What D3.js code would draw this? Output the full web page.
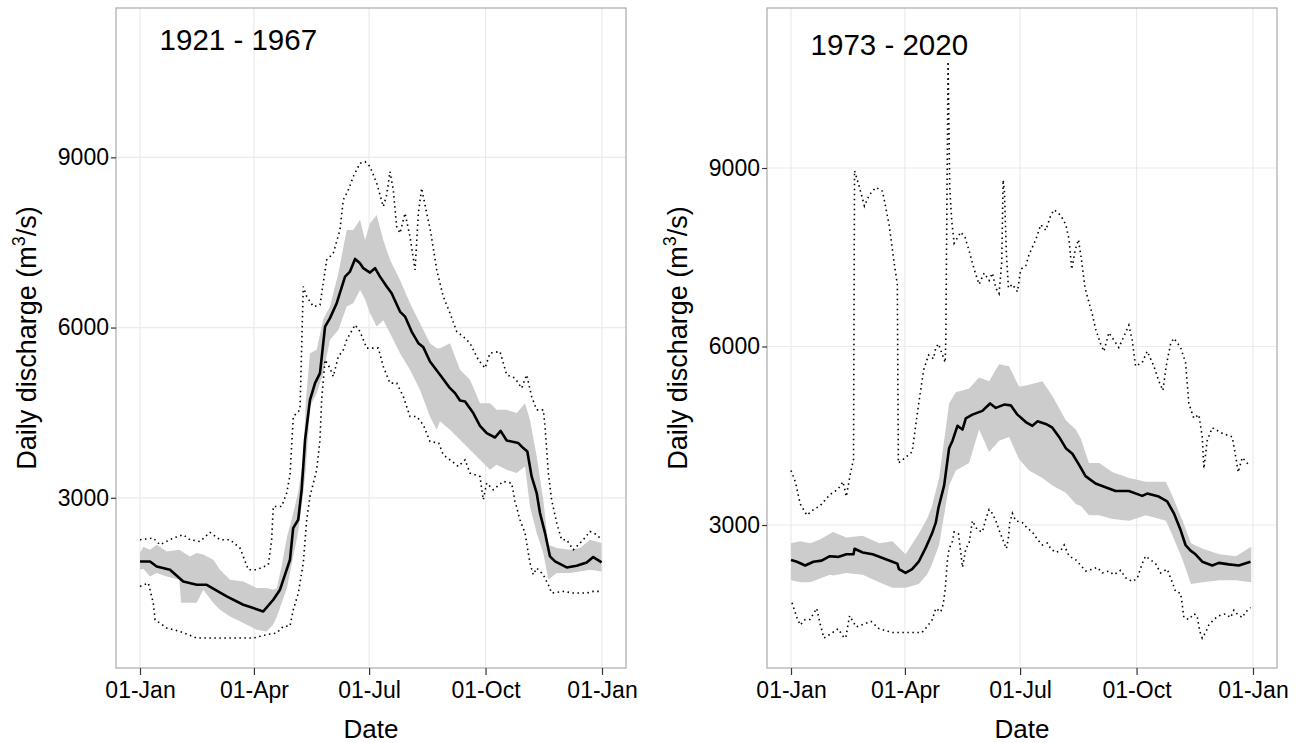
<!DOCTYPE html>
<html>
<head>
<meta charset="utf-8">
<script src="https://cdn.jsdelivr.net/npm/d3@7"></script>
<style>
  body { margin: 0; background: #fff; }
  text { font-family: "Liberation Sans", Arial, sans-serif; }
</style>
</head>
<body>
<div id="chart"></div>
<script>
// axis ticks (day of year) and labels
const dayTicks = [0, 90, 181, 273, 365];
const dayTickLabels = ["01-Jan", "01-Apr", "01-Jul", "01-Oct", "01-Jan"];
const valueTicks = [3000, 6000, 9000];
const panelTitles = ["1921 - 1967", "1973 - 2020"];
const yLimits = [[0, 11632], [597, 11689]];
const titlePos = [15.5, 11080]; // day, discharge

// 1921 - 1967 : [day, value]
const early_mean = [[0,1878],[7.9,1878],[13.2,1790],[23.7,1732],[34.2,1526],[44.8,1467],[52.7,1467],[68.5,1261],[81.6,1115],[97.4,997],[105.3,1203],[110.6,1380],[118.5,1908],[121,2466],[125,2612],[127.7,3141],[130.4,4022],[134.3,4726],[138.3,5020],[142.2,5197],[146.2,6018],[150.1,6166],[155.4,6430],[162,6898],[165.9,6987],[169.9,7210],[173.8,7134],[176.4,7046],[181.7,6969],[185.7,7046],[189.6,6898],[194.9,6722],[198.8,6606],[205.4,6282],[209.4,6194],[214.6,5930],[219.9,5725],[223.8,5655],[229.1,5401],[237,5167],[244.9,4932],[248.9,4844],[252.8,4714],[256.8,4697],[263.3,4492],[268.6,4268],[273.9,4140],[280.5,4062],[284.9,4180],[289.7,4010],[298.9,3964],[302.8,3876],[306,3816],[309.4,3376],[313.4,3083],[316,2731],[320,2378],[323.9,1966],[327.9,1878],[337.1,1772],[345,1802],[352.9,1860],[358.1,1955],[364.7,1860]];
// [day, lower, upper]
const early_band = [[0,1732,2026],[2.6,1750,2137],[7.9,1614,2084],[13.2,1673,2172],[21.1,1614,2054],[31,1555,2084],[32.5,1150,2060],[39.5,1150,1966],[44.8,1150,2026],[50,1379,2000],[57.9,1145,1908],[63.2,1027,1732],[71.1,909,1555],[81.6,792,1526],[92.2,675,1409],[100,645,1409],[105,760,1380],[108,900,1400],[112,1150,1800],[116,1400,2300],[121.1,1966,2731],[125,2400,3100],[129,3083,3669],[131,3500,4700],[134.3,4609,5549],[139.6,4844,5607],[144.8,5197,6150],[150.1,5783,6370],[156.7,5959,6958],[163.3,6370,7721],[168.5,6430,7721],[173.8,6664,7898],[177.8,6500,7545],[181.7,6254,7839],[187,6018,7985],[192.2,6130,7545],[197.5,5901,7193],[205.4,5549,6840],[213.3,5255,6430],[221.2,4903,6078],[229.1,4432,5725],[234.4,4198,5637],[237,4350,5637],[244.9,4198,5725],[252.8,4022,5255],[260.7,3846,5079],[268.6,3669,4668],[276.5,3493,4668],[281.8,3580,4550],[289.7,3493,4550],[297.6,3435,4492],[304.2,3550,4668],[308.1,2847,4374],[313.4,2378,3728],[318.6,2026,2965],[322.6,1555,2172],[329.2,1673,2114],[339.7,1673,2084],[347.6,1702,2114],[355.5,1732,2260],[364.7,1702,2202]];
const early_max = [[0,2260],[10.5,2290],[15.8,2172],[26.3,2290],[34.2,2348],[39.5,2260],[47.4,2230],[55.3,2389],[63.2,2260],[71.1,2260],[79,2114],[85.6,1732],[92.2,1732],[101.4,1820],[104,2260],[105.3,2847],[111.9,2847],[115.9,3083],[118.5,3400],[121.1,4432],[126.4,4550],[129,6722],[131.7,6546],[137,6370],[142.2,6400],[147.5,7193],[152.7,7311],[158,7721],[160.6,8250],[164.6,8426],[168.5,8661],[173.8,8896],[177.8,8925],[181.7,8837],[187,8544],[192.2,8132],[194.9,8338],[197.5,8749],[200.1,8426],[202.8,7780],[205.4,7663],[209.4,8015],[213.3,7604],[217.3,7017],[219.9,8015],[222.5,8456],[226.5,8015],[229.1,7751],[231.7,7400],[234.4,7017],[239.6,6546],[244.9,6254],[250.2,5930],[255.4,5842],[260.7,5725],[267.3,5431],[272.6,5285],[276.5,5549],[284.4,5578],[289.7,5167],[296.3,5109],[301.5,4932],[305.5,5167],[309.4,4785],[313.4,4550],[318.6,4550],[320,4256],[322.6,3435],[325.2,2965],[329.2,2554],[333.1,2260],[337.1,2260],[342.3,2084],[350.2,2260],[355.5,2407],[360.8,2350],[364.7,2260]];
const early_min = [[0,1438],[6.6,1497],[10.5,1145],[11.9,851],[21.1,705],[31.6,645],[44.8,528],[57.9,528],[71.1,528],[89.5,528],[100,587],[108,617],[113.2,733],[118.5,740],[121.1,1027],[125.1,1321],[129,1850],[131.7,2612],[134.3,3024],[139.6,3493],[142.2,4022],[143.5,4726],[146.2,5431],[150.1,5285],[152.7,5137],[156.7,5490],[160.6,5607],[163.3,5783],[169.9,6048],[173.8,5930],[179.1,5637],[184.3,5637],[188.3,5637],[192.2,5314],[197.5,5020],[202.8,5020],[208,4785],[213.3,4432],[218.6,4432],[223.8,4286],[229.1,3992],[236,3964],[239.6,3757],[244.9,3669],[251.5,3552],[256.8,3669],[260.7,3435],[268.6,3376],[271.2,2965],[273.9,3259],[279.1,3141],[287,3288],[293.6,3259],[296.3,2935],[300.2,2612],[304.2,2378],[308.1,1850],[310.7,1644],[313.4,1762],[318.6,1644],[322.6,1467],[325.2,1321],[334.4,1350],[342.3,1321],[352.9,1321],[358.1,1350],[364.7,1350]];

// 1973 - 2020
const late_mean = [[0,2414],[4.7,2383],[11.2,2320],[17.7,2383],[24.2,2401],[30.7,2476],[37.2,2464],[43.7,2508],[49.4,2508],[50.2,2602],[56.7,2539],[64.5,2508],[72.3,2445],[80.1,2383],[84,2351],[85.3,2257],[90.5,2195],[95.7,2257],[100.9,2383],[106.1,2602],[111.3,2852],[114.4,3040],[116.5,3290],[121,3666],[124.9,4291],[127.6,4417],[131.5,4667],[135.5,4605],[138.1,4793],[143.3,4855],[151.2,4918],[157.3,5043],[161.8,4968],[168.4,5024],[173.6,5011],[178.9,4855],[185.5,4730],[190.7,4667],[194.7,4742],[201.3,4699],[206.5,4636],[211.8,4480],[217.1,4291],[222.3,4198],[227.6,4010],[232.7,3822],[240.6,3697],[248.5,3635],[256.4,3572],[266.9,3572],[277.5,3490],[281.4,3528],[290.6,3478],[297.2,3397],[302.5,3196],[307.8,2915],[311.7,2664],[315.7,2570],[319.6,2508],[324.9,2383],[332.8,2320],[338,2364],[345.9,2339],[353.8,2320],[363,2383]];
const late_band = [[0,2070,2695],[7.3,2039,2727],[15.1,2039,2695],[22.9,2101,2758],[30.7,2164,2852],[33.3,2150,2883],[43.7,2195,2790],[56.7,2164,2821],[69.7,2039,2695],[80.1,1945,2727],[90.5,1945,2508],[100.9,2008,2852],[107.4,2164,3102],[111,2320,3290],[117,2664,3791],[124.9,3666,5043],[130.2,3916,5231],[140.7,4041,5293],[148.6,4605,5481],[156.5,4229,5418],[164.4,4417,5700],[172.3,4480,5669],[180.2,4104,5324],[188.1,3916,5356],[198.6,3791,5418],[206.5,3666,5168],[217.1,3541,4761],[225,3353,4605],[229,3320,4450],[235.4,3165,4041],[243.5,3165,4041],[254.1,3103,3885],[267.3,3071,3791],[280.4,3165,3729],[296.2,3071,3729],[301.5,2821,3478],[309.4,2414,3071],[316,2008,2695],[325.2,2039,2602],[338.4,2070,2508],[351.5,2070,2477],[363.6,2039,2633]];
const late_max = [[0,3916],[3.4,3728],[7.3,3353],[12.5,3165],[17.7,3259],[22.9,3322],[30.7,3509],[37.2,3603],[41.1,3728],[43.7,3478],[46.8,3854],[49.4,4104],[50.2,8956],[54.1,8674],[58,8361],[61.9,8549],[67.1,8674],[72.3,8611],[77.5,8048],[81.4,7422],[84,7046],[84.8,4041],[90.5,4135],[95.7,4229],[100.9,5043],[104.8,5606],[108.7,5857],[112.6,5794],[114.4,5982],[116.5,6045],[119.7,5857],[121.8,5732],[122.3,6107],[124.1,10790],[125.4,8674],[127,8110],[128.9,7735],[134.1,7923],[137.6,7829],[140.7,7610],[144.7,7297],[148.6,7046],[152.6,7234],[156.5,7109],[159.1,7234],[161.8,6984],[164.4,6890],[166.5,7422],[167.6,8799],[168.6,8611],[170.2,7547],[171.8,6984],[174.9,7046],[178.9,6921],[181.5,7297],[185.5,7359],[188.1,7547],[193.4,7797],[197.3,8048],[201.3,7954],[205.2,8204],[207.9,8298],[213.1,8204],[217.1,8048],[219.7,7797],[221.8,7297],[224.4,7610],[227.1,7797],[229.7,7422],[232.3,6984],[235.5,6733],[238,6546],[240.6,6296],[244.6,6045],[247.2,5920],[251.1,6233],[255.1,6107],[259,5982],[263,6170],[266.9,6358],[269.6,6107],[272.2,5669],[277.5,5732],[281.4,5920],[286.7,5669],[290.6,5418],[293.8,5262],[296.4,5669],[299.9,6045],[302.5,6139],[307.8,5982],[311.7,5732],[314.3,5043],[318.3,4793],[322.2,4855],[324.9,4480],[326.2,3948],[328.8,4417],[332.8,4636],[340.7,4542],[348.6,4480],[351.2,4167],[353.3,3885],[356.5,4135],[361.7,4010]];
const late_min = [[0.8,1694],[4.7,1444],[7.3,1319],[11.2,1413],[15.1,1413],[20.3,1600],[22.9,1350],[26,1100],[30.7,1162],[37.2,1256],[41.1,1131],[43.2,1100],[46.3,1475],[51.5,1288],[59.3,1350],[63.2,1381],[69.7,1256],[80.1,1193],[90.5,1193],[98.3,1193],[103.5,1193],[107.4,1288],[111.7,1412],[114.4,1600],[118.3,1538],[120.2,1663],[121.8,1913],[123.6,2414],[124.9,2602],[127.6,2727],[128.9,2883],[132.3,2852],[134.1,2539],[135.5,2289],[138.1,2602],[140.7,2696],[143.3,3071],[147.3,2915],[151.2,2883],[153.9,3102],[156.5,3259],[159.1,3196],[161.8,3071],[164.4,2915],[168.4,2696],[170.2,2602],[171.8,2790],[172.8,3040],[174.9,3196],[177.6,3071],[182.8,3040],[186.8,2946],[190.7,2883],[194.7,2758],[198.6,2664],[202.6,2696],[205.2,2602],[209.2,2539],[213.1,2570],[215.8,2664],[219.7,2477],[225,2414],[228.9,2320],[232.9,2226],[238,2257],[241.9,2289],[245.9,2195],[251.1,2226],[255.1,2164],[260.4,2239],[264.3,2113],[269.6,2051],[273.5,2101],[277.5,2352],[280.1,2477],[284.1,2414],[288,2352],[292,2195],[297.2,2257],[301.2,2039],[303.8,1882],[307.8,1851],[309.1,1663],[310.4,1444],[314.3,1413],[318.3,1507],[320.9,1475],[322.8,1225],[324.9,1100],[327.5,1193],[330.1,1319],[334.1,1413],[338,1475],[343.3,1507],[347.3,1444],[349.9,1569],[352.5,1507],[356.5,1444],[359.1,1538],[363.1,1613]];

const W = 1302, H = 743;
const panelW = 510, panelH = 660, panelTop = 8;

const svg = d3.select("#chart").append("svg")
  .attr("width", W)
  .attr("height", H);

const panels = [
  { left: 116, title: panelTitles[0], yLim: yLimits[0], mean: early_mean, band: early_band, max: early_max, min: early_min },
  { left: 767, title: panelTitles[1], yLim: yLimits[1], mean: late_mean, band: late_band, max: late_max, min: late_min }
];

panels.forEach(function(p) {
  var g = svg.append("g").attr("transform", "translate(" + p.left + "," + panelTop + ")");

  var x = d3.scaleLinear().domain([0, 365]).range([24, 486]);
  var y = d3.scaleLinear().domain(p.yLim).range([panelH, 0]);

  // grid
  g.selectAll("line.vgrid").data(dayTicks).enter().append("line")
    .attr("x1", d => x(d)).attr("x2", d => x(d))
    .attr("y1", 0).attr("y2", panelH)
    .attr("stroke", "#ebebeb").attr("stroke-width", 1.2);
  g.selectAll("line.hgrid").data(valueTicks).enter().append("line")
    .attr("x1", 0).attr("x2", panelW)
    .attr("y1", d => y(d)).attr("y2", d => y(d))
    .attr("stroke", "#ebebeb").attr("stroke-width", 1.2);

  var area = d3.area()
    .x(d => x(d[0]))
    .y0(d => y(d[1]))
    .y1(d => y(d[2]));
  var line = d3.line()
    .x(d => x(d[0]))
    .y(d => y(d[1]));

  g.append("path").datum(p.band)
    .attr("d", area)
    .attr("fill", "#cccccc");

  [p.max, p.min].forEach(function(s) {
    g.append("path").datum(s)
      .attr("d", line)
      .attr("fill", "none")
      .attr("stroke", "#000")
      .attr("stroke-width", 1.6)
      .attr("stroke-dasharray", "1.5 3.5");
  });

  g.append("path").datum(p.mean)
    .attr("d", line)
    .attr("fill", "none")
    .attr("stroke", "#000")
    .attr("stroke-width", 2.6)
    .attr("stroke-linejoin", "round");

  // border
  g.append("rect")
    .attr("width", panelW).attr("height", panelH)
    .attr("fill", "none")
    .attr("stroke", "#aaaaaa").attr("stroke-width", 1.2);

  // axes
  var xAxis = g.append("g")
    .attr("transform", "translate(0," + panelH + ")")
    .call(d3.axisBottom(x).tickValues(dayTicks).tickFormat((d, i) => dayTickLabels[i]).tickSize(7).tickPadding(7));
  var yAxis = g.append("g")
    .call(d3.axisLeft(y).tickValues(valueTicks).tickFormat(d3.format("d")).tickSize(5).tickPadding(2));
  [xAxis, yAxis].forEach(function(a) {
    a.select(".domain").remove();
    a.selectAll("line").attr("stroke", "#333").attr("stroke-width", 1.2);
    a.selectAll("text").attr("fill", "#000").style("font-size", "23px");
  });

  // axis titles
  g.append("text")
    .attr("x", panelW / 2)
    .attr("y", 730)
    .attr("text-anchor", "middle")
    .style("font-size", "26px")
    .text("Date");

  var yt = g.append("text")
    .attr("transform", "translate(-80," + (panelH / 2) + ") rotate(-90)")
    .attr("text-anchor", "middle")
    .style("font-size", "27px");
  yt.append("tspan").text("Daily discharge (m");
  yt.append("tspan").attr("dy", -11).style("font-size", "18px").text("3");
  yt.append("tspan").attr("dy", 11).text("/s)");

  // panel title
  g.append("text")
    .attr("x", x(titlePos[0]))
    .attr("y", y(titlePos[1]))
    .attr("dy", "0.36em")
    .style("font-size", "29.5px")
    .text(p.title);
});
</script>
</body>
</html>
